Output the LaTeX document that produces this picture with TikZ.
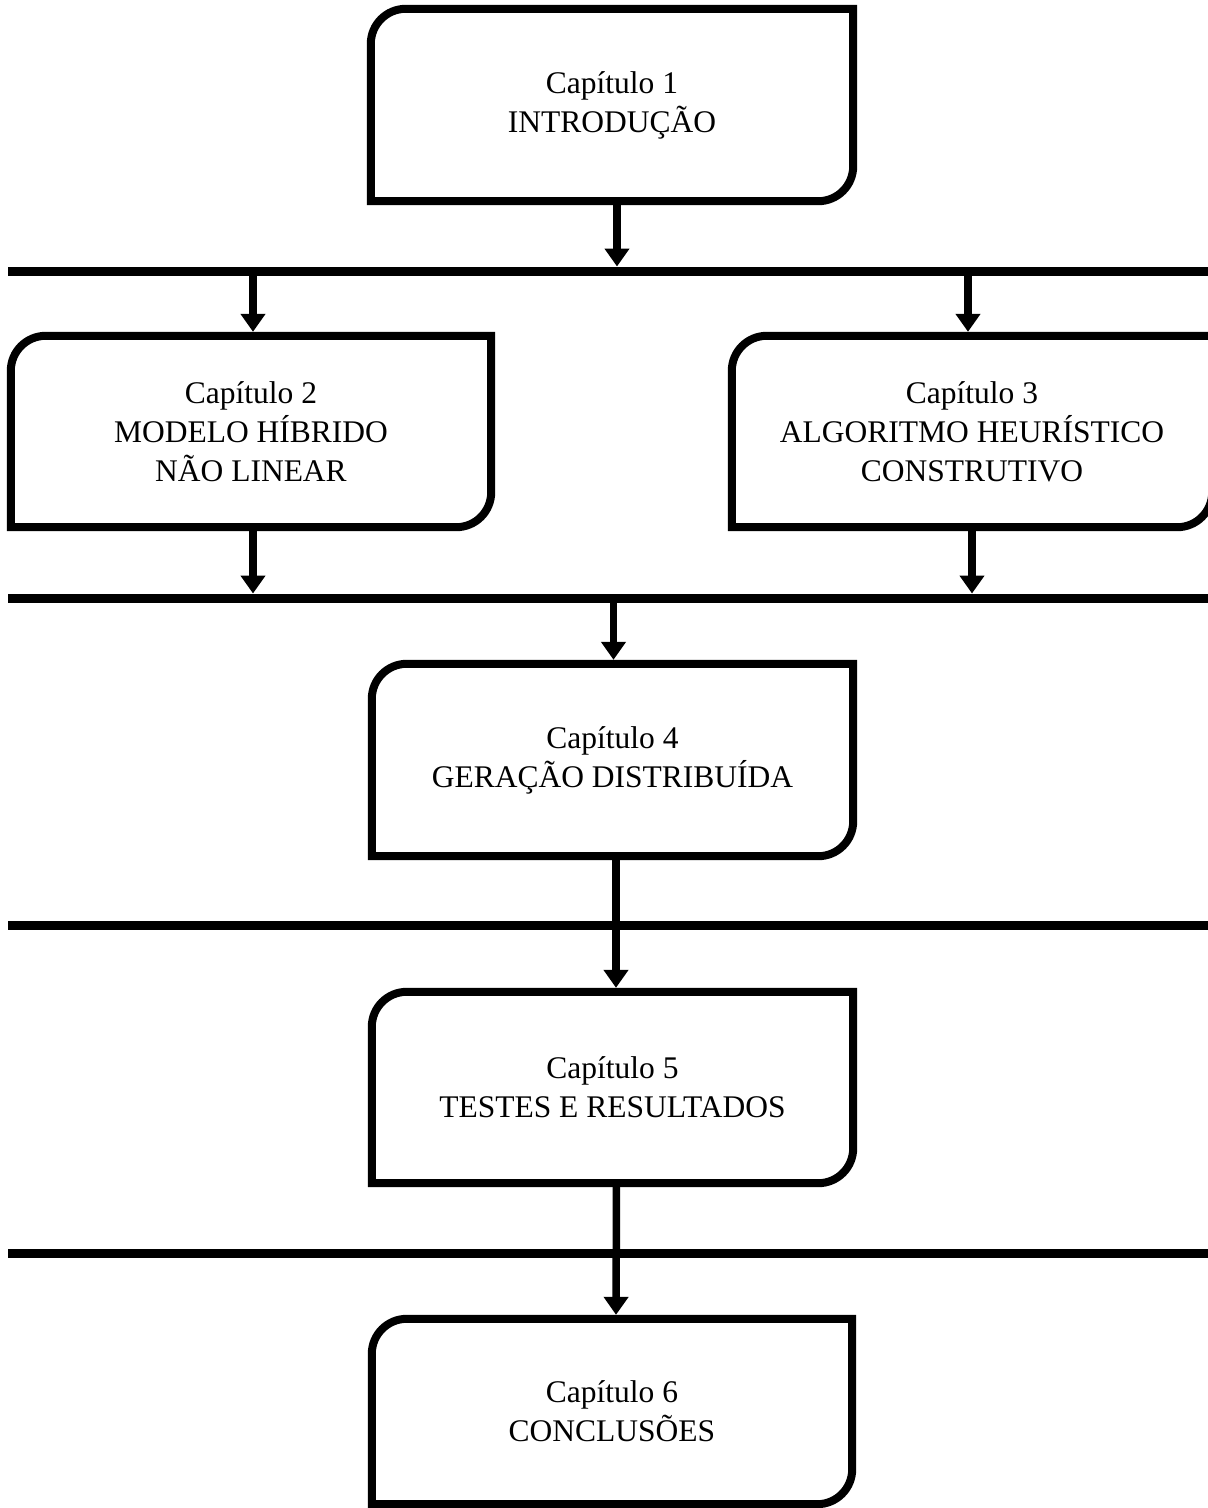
\documentclass[tikz,border=0pt]{standalone}
\usepackage{fontspec}
\setmainfont{Liberation Serif}
\usetikzlibrary{arrows.meta}
\tikzset{
  chbox/.style={rectangle, inner sep=0pt, draw=none, align=center,
    font=\fontsize{31.5}{39}\selectfont},
  chborder/.style={line width=8pt, line join=miter},
  busbar/.style={line width=9pt},
  flow/.style={line width=7.5pt, -{Triangle[width=24pt,length=18pt]}},
}
\newcommand{\chframe}[1]{%
  \draw[chborder] (#1.north east) -- ([yshift=35pt]#1.south east)
    arc[start angle=0,end angle=-90,radius=35pt] -- (#1.south west)
    -- ([yshift=-35pt]#1.north west)
    arc[start angle=180,end angle=90,radius=35pt] -- cycle;}
\begin{document}
\begin{tikzpicture}[x=1pt,y=1pt]
\path[use as bounding box] (0,0) rectangle (1208,-1508);
\clip (0,0) rectangle (1208,-1508);
\fill[white] (0,0) rectangle (1208,-1508);

% boxes
\node[chbox, minimum width=482pt, minimum height=192pt] (b1) at (612,-105) {Capítulo 1\\INTRODUÇÃO};
\node[chbox, minimum width=480pt, minimum height=191pt] (b2) at (251,-431.5) {Capítulo 2\\MODELO HÍBRIDO\\NÃO LINEAR};
\node[chbox, minimum width=480pt, minimum height=191pt] (b3) at (972,-431.5) {Capítulo 3\\ALGORITMO HEURÍSTICO\\CONSTRUTIVO};
\node[chbox, minimum width=481pt, minimum height=192pt] (b4) at (612.5,-760) {Capítulo 4\\GERAÇÃO DISTRIBUÍDA};
\node[chbox, minimum width=481pt, minimum height=191pt] (b5) at (612.5,-1087.5) {Capítulo 5\\TESTES E RESULTADOS};
\node[chbox, minimum width=480pt, minimum height=185pt] (b6) at (612,-1411.5) {Capítulo 6\\CONCLUSÕES};

\chframe{b1}
\chframe{b2}
\chframe{b3}
\chframe{b4}
\chframe{b5}
\chframe{b6}

% bars
\coordinate (bar1w) at (8,-271);    \coordinate (bar1e) at (1216,-271);
\coordinate (bar2w) at (8,-598);    \coordinate (bar2e) at (1216,-598);
\coordinate (bar3w) at (8,-925.5);  \coordinate (bar3e) at (1216,-925.5);
\coordinate (bar4w) at (8,-1253);   \coordinate (bar4e) at (1216,-1253);
\draw[busbar] (bar1w) -- (bar1e);
\draw[busbar] (bar2w) -- (bar2e);
\draw[busbar] (bar3w) -- (bar3e);
\draw[busbar] (bar4w) -- (bar4e);

% connectors
\draw[flow, shorten >=4.5pt] ([xshift=5pt]b1.south) -- ([xshift=5pt]b1.south |- bar1w);
\draw[flow, shorten >=4pt] ([xshift=2pt]b2.north |- bar1w) -- ([xshift=2pt]b2.north);
\draw[flow, shorten >=4pt] ([xshift=-4pt]b3.north |- bar1w) -- ([xshift=-4pt]b3.north);
\draw[flow, shorten >=4.5pt] ([xshift=2pt]b2.south) -- ([xshift=2pt]b2.south |- bar2w);
\draw[flow, shorten >=4.5pt] (b3.south) -- (b3.south |- bar2w);
\draw[flow, shorten >=4pt] ([xshift=1pt]b4.north |- bar2w) -- ([xshift=1pt]b4.north);
\draw[flow, shorten >=4pt] ([xshift=3.5pt]b4.south) -- ([xshift=3.5pt]b5.north);
\draw[flow, shorten >=4pt] ([xshift=4pt]b5.south) -- ([xshift=4pt]b6.north);
\end{tikzpicture}
\end{document}
